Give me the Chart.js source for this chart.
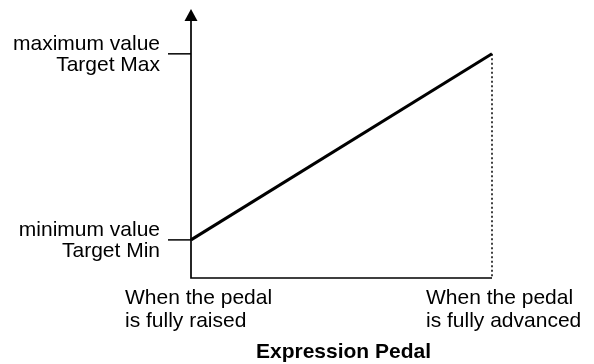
<!DOCTYPE html>
<html>
<head>
<meta charset="utf-8">
<script src="https://cdn.jsdelivr.net/npm/chart.js@4/dist/chart.umd.min.js"></script>
<style>
  html, body { margin: 0; padding: 0; background: #fff; }
  canvas { display: block; }
</style>
</head>
<body>
<canvas id="pedalChart" width="594" height="364"></canvas>
<script>
/* ===============================
   EXPRESSION PEDAL -> TARGET RANGE
================================ */

// pedal travel (0 = fully raised, 1 = fully advanced)
const pedalPos = [0, 1];
// target value reached at each end of the travel
const targetValue = [17, 100];
const yRange = [0, 120];

const yTickLabels = [
  ["minimum value", "Target Min"],
  ["maximum value", "Target Max"],
];
const xTickLabels = [
  ["When the pedal", "is fully raised"],
  ["When the pedal", "is fully advanced"],
];
const xTitle = "Expression Pedal";

const FONT = "'Liberation Sans', Arial, Helvetica, sans-serif";
const INK = "#000";

// axes, arrow, tick marks and all the texts
const axisDecor = {
  id: "axisDecor",
  afterDatasetsDraw(chart) {
    const { ctx, chartArea: a, scales } = chart;
    const xs = scales.x, ys = scales.y;
    const x0 = xs.getPixelForValue(pedalPos[0]);
    const x1 = xs.getPixelForValue(pedalPos[1]);
    const yBase = ys.getPixelForValue(yRange[0]);
    const yTop = ys.getPixelForValue(yRange[1]);

    ctx.save();
    ctx.strokeStyle = INK;
    ctx.fillStyle = INK;

    // dotted drop line at full travel
    ctx.lineWidth = 1.5;
    ctx.setLineDash([2, 2.5]);
    ctx.beginPath();
    ctx.moveTo(x1, ys.getPixelForValue(targetValue[1]));
    ctx.lineTo(x1, yBase);
    ctx.stroke();
    ctx.setLineDash([]);

    // y axis + x axis
    ctx.lineWidth = 1.7;
    ctx.beginPath();
    ctx.moveTo(x0, yTop + 10);
    ctx.lineTo(x0, yBase);
    ctx.lineTo(x1, yBase);
    ctx.stroke();

    // arrow head
    ctx.beginPath();
    ctx.moveTo(x0, yTop);
    ctx.lineTo(x0 - 6.5, yTop + 12);
    ctx.lineTo(x0 + 6.5, yTop + 12);
    ctx.closePath();
    ctx.fill();

    // y tick marks and labels
    ctx.font = "21px " + FONT;
    ctx.textAlign = "right";
    ctx.textBaseline = "middle";
    targetValue.forEach((v, i) => {
      const y = ys.getPixelForValue(v);
      ctx.lineWidth = 1.5;
      ctx.beginPath();
      ctx.moveTo(x0 - 23, y);
      ctx.lineTo(x0, y);
      ctx.stroke();
      ctx.fillText(yTickLabels[i][0], x0 - 31, y - 10);
      ctx.fillText(yTickLabels[i][1], x0 - 31, y + 11);
    });

    // x labels, left aligned under each end of travel
    ctx.textAlign = "left";
    pedalPos.forEach((p, i) => {
      const x = xs.getPixelForValue(p) - 66;
      ctx.fillText(xTickLabels[i][0], x, yBase + 20);
      ctx.fillText(xTickLabels[i][1], x, yBase + 43);
    });

    // axis title
    ctx.font = "bold 21px " + FONT;
    ctx.textAlign = "center";
    ctx.fillText(xTitle, (a.left + a.right) / 2 + 2, yBase + 74);

    ctx.restore();
  },
};

const el = document.getElementById("pedalChart");

new Chart(el, {
  type: "line",
  data: {
    datasets: [
      {
        data: pedalPos.map((p, i) => ({ x: p, y: targetValue[i] })),
        borderColor: INK,
        borderWidth: 3,
        pointRadius: 0,
        tension: 0,
        clip: false,
      },
    ],
  },
  options: {
    responsive: false,
    animation: false,
    layout: {
      padding: { left: 191, right: 102, top: 9, bottom: 86 },
    },
    plugins: {
      legend: { display: false },
      tooltip: { enabled: false },
    },
    scales: {
      x: { type: "linear", min: pedalPos[0], max: pedalPos[1], display: false },
      y: { min: yRange[0], max: yRange[1], display: false },
    },
  },
  plugins: [axisDecor],
});
</script>
</body>
</html>
